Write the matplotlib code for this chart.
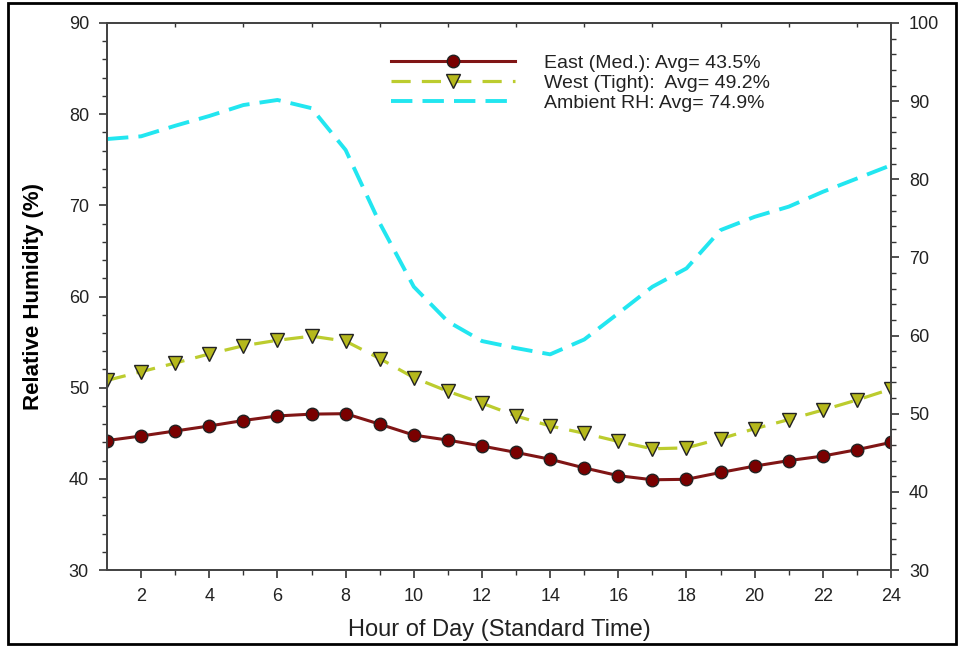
import matplotlib
matplotlib.use("Agg")
import matplotlib.pyplot as plt
from matplotlib.ticker import MultipleLocator, FixedLocator
from matplotlib.patches import Rectangle

plt.rcParams['font.family'] = ['Liberation Sans', 'DejaVu Sans']

hours = list(range(1, 25))
east = [44.2, 44.7, 45.25, 45.8, 46.4, 46.9, 47.1, 47.15, 46.0, 44.8, 44.25, 43.6,
        42.9, 42.15, 41.2, 40.35, 39.9, 39.95, 40.7, 41.4, 42.0, 42.5, 43.2, 44.0]
west = [50.8, 51.75, 52.7, 53.7, 54.6, 55.2, 55.65, 55.1, 53.2, 51.1, 49.6, 48.3,
        46.9, 45.8, 45.0, 44.1, 43.3, 43.4, 44.4, 45.5, 46.5, 47.55, 48.65, 49.85]
ambient = [85.15, 85.5, 86.85, 88.1, 89.5, 90.15, 89.1, 83.75, 74.4, 66.25, 61.8, 59.3,
           58.4, 57.6, 59.5, 62.85, 66.25, 68.6, 73.5, 75.2, 76.5, 78.4, 80.1, 81.8]
labels = ["East (Med.): Avg= 43.5%", "West (Tight):  Avg= 49.2%", "Ambient RH: Avg= 74.9%"]

fig = plt.figure(figsize=(9.64, 6.46), dpi=100)
ax = fig.add_axes([0.111, 0.1176, 0.8133, 0.8468])
ax2 = ax.twinx()

tc = '#333333'
l1, = ax.plot(hours, east, color='#801515', lw=2.2, marker='o', ms=9,
              mfc='#7a0000', mec='#222222', mew=1.0, zorder=5)
l2, = ax.plot(hours, west, color='#bccc2e', lw=2.3, dashes=(6, 3.5), marker='v', ms=9.5,
              mfc='#b5b81c', mec='#222222', mew=1.0, zorder=4)
l3, = ax2.plot(hours, ambient, color='#22e6f0', lw=2.8, dashes=(5.5, 2.6))

ax.set_xlim(1, 24)
ax.set_ylim(30, 90)
ax2.set_ylim(30, 100)

ax.xaxis.set_major_locator(FixedLocator(list(range(2, 25, 2))))
ax.xaxis.set_minor_locator(FixedLocator(list(range(3, 24, 2))))
ax.yaxis.set_major_locator(MultipleLocator(10))
ax.yaxis.set_minor_locator(MultipleLocator(2))
ax2.yaxis.set_major_locator(MultipleLocator(10))
ax2.yaxis.set_minor_locator(MultipleLocator(2))

ax.tick_params(which='major', direction='out', length=6, width=1.2, color=tc,
               labelsize=13, labelcolor='#222222', pad=7, top=False, right=False)
ax.tick_params(which='minor', direction='out', length=3.5, width=1.0, color=tc,
               top=False, right=False)
ax2.tick_params(which='major', direction='out', length=6, width=1.2, color=tc,
                labelsize=13, labelcolor='#222222', pad=7)
ax2.tick_params(which='minor', direction='out', length=3.5, width=1.0, color=tc)

sec = ax.secondary_xaxis('top')
sec.set_xticks(list(range(3, 24, 2)))
sec.tick_params(direction='in', length=3, width=1.0, color=tc, labeltop=False)
sec.spines['top'].set_visible(False)

for a in (ax, ax2):
    for s in a.spines.values():
        s.set_color('#444444')
        s.set_linewidth(1.3)

ax.set_ylabel("Relative Humidity (%)", fontsize=16, fontweight='bold', labelpad=18)
ax.set_xlabel("Hour of Day (Standard Time)", fontsize=17, color='#222222', labelpad=10)

leg = ax.legend([l1, l2, l3], labels, loc='upper left', bbox_to_anchor=(0.362, 0.943),
                frameon=False, fontsize=14, handlelength=6.4, handletextpad=1.5,
                labelspacing=0.13, numpoints=1, borderpad=0, borderaxespad=0)
for t in leg.get_texts():
    t.set_color('#222222')

fig.patches.append(Rectangle((0.008, 0.003), 0.984, 0.992, transform=fig.transFigure,
                             fill=False, edgecolor='black', lw=2.0))

fig.savefig("out.png", dpi=100)
